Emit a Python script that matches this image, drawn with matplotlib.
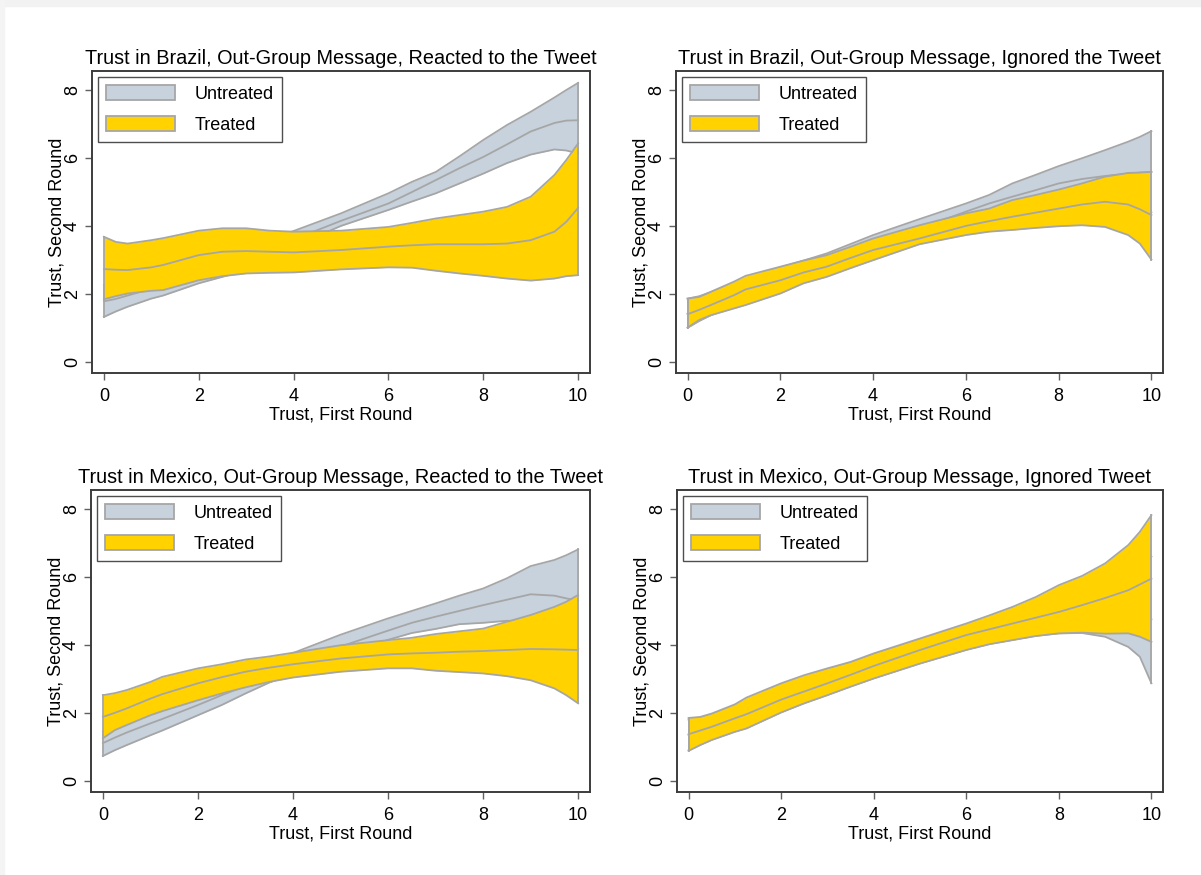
import numpy as np
import matplotlib.pyplot as plt
from matplotlib.patches import Patch, Rectangle

plt.rcParams['font.family'] = ['Liberation Sans', 'DejaVu Sans']

# first-round trust grid where the smoothed curves are read
trust_first = [0, 0.25, 0.5, 1, 1.25, 2, 2.5, 3, 3.5, 4, 5, 6, 6.5, 7, 7.5, 8, 8.5, 9, 9.5, 9.75, 10]

# Brazil, reacted to the tweet
br_re_unt_hi = [2.25, 2.3, 2.38, 2.55, 2.62, 2.95, 3.15, 3.35, 3.6, 3.85, 4.37, 4.96, 5.30, 5.59, 6.05, 6.53, 6.97, 7.36, 7.78, 8.0, 8.21]
br_re_unt_fit = [1.78, 1.85, 1.95, 2.15, 2.25, 2.6, 2.85, 3.1, 3.35, 3.6, 4.15, 4.66, 5.0, 5.35, 5.7, 6.03, 6.4, 6.78, 7.03, 7.1, 7.11]
br_re_unt_lo = [1.32, 1.48, 1.62, 1.86, 1.95, 2.31, 2.5, 2.7, 3.0, 3.4, 4.0, 4.47, 4.72, 4.96, 5.25, 5.54, 5.85, 6.1, 6.25, 6.22, 6.13]
br_re_trt_hi = [3.68, 3.53, 3.48, 3.58, 3.64, 3.86, 3.93, 3.93, 3.86, 3.83, 3.86, 3.97, 4.09, 4.22, 4.32, 4.42, 4.56, 4.86, 5.5, 5.94, 6.43]
br_re_trt_fit = [2.73, 2.71, 2.70, 2.78, 2.85, 3.14, 3.24, 3.26, 3.24, 3.22, 3.29, 3.39, 3.43, 3.46, 3.46, 3.46, 3.48, 3.58, 3.83, 4.12, 4.53]
br_re_trt_lo = [1.84, 1.93, 2.01, 2.09, 2.11, 2.40, 2.52, 2.60, 2.62, 2.63, 2.72, 2.78, 2.77, 2.68, 2.60, 2.53, 2.45, 2.39, 2.45, 2.52, 2.55]

# Brazil, ignored the tweet
br_ig_unt_hi = [1.86, 1.93, 2.05, 2.3, 2.45, 2.78, 2.98, 3.19, 3.46, 3.73, 4.20, 4.66, 4.91, 5.25, 5.5, 5.76, 5.99, 6.23, 6.48, 6.62, 6.79]
br_ig_unt_fit = [1.42, 1.55, 1.68, 1.9, 2.02, 2.35, 2.6, 2.85, 3.12, 3.42, 3.92, 4.42, 4.66, 4.86, 5.05, 5.25, 5.38, 5.47, 5.54, 5.57, 5.59]
br_ig_unt_lo = [1.0, 1.2, 1.37, 1.62, 1.72, 2.07, 2.34, 2.6, 2.85, 3.1, 3.6, 4.05, 4.25, 4.4, 4.55, 4.7, 4.8, 4.85, 4.75, 4.6, 4.4]
br_ig_trt_hi = [1.86, 1.91, 2.06, 2.36, 2.53, 2.80, 2.98, 3.14, 3.38, 3.63, 4.02, 4.37, 4.51, 4.76, 4.91, 5.07, 5.25, 5.45, 5.56, 5.57, 5.59]
br_ig_trt_fit = [1.40, 1.53, 1.67, 1.96, 2.13, 2.40, 2.63, 2.80, 3.05, 3.29, 3.63, 4.00, 4.14, 4.27, 4.39, 4.51, 4.63, 4.71, 4.63, 4.49, 4.32]
br_ig_trt_lo = [1.01, 1.23, 1.37, 1.57, 1.67, 2.01, 2.31, 2.50, 2.75, 2.99, 3.46, 3.73, 3.83, 3.88, 3.94, 3.99, 4.02, 3.97, 3.73, 3.48, 3.01]

# Mexico, reacted to the tweet
mx_re_unt_hi = [1.45, 1.6, 1.78, 2.1, 2.25, 2.62, 2.85, 3.1, 3.4, 3.76, 4.3, 4.78, 5.0, 5.22, 5.45, 5.66, 5.96, 6.32, 6.50, 6.64, 6.81]
mx_re_unt_fit = [1.11, 1.27, 1.42, 1.69, 1.82, 2.23, 2.52, 2.79, 3.06, 3.4, 3.95, 4.42, 4.65, 4.83, 5.0, 5.17, 5.33, 5.49, 5.45, 5.37, 5.3]
mx_re_unt_lo = [0.73, 0.9, 1.05, 1.34, 1.48, 1.93, 2.23, 2.57, 2.89, 3.15, 3.7, 4.15, 4.35, 4.47, 4.61, 4.65, 4.71, 4.7, 4.5, 4.2, 3.9]
mx_re_trt_hi = [2.52, 2.58, 2.67, 2.91, 3.06, 3.31, 3.43, 3.57, 3.66, 3.77, 3.99, 4.14, 4.21, 4.32, 4.40, 4.48, 4.68, 4.88, 5.12, 5.27, 5.47]
mx_re_trt_fit = [1.88, 2.0, 2.13, 2.42, 2.55, 2.87, 3.05, 3.21, 3.33, 3.43, 3.60, 3.72, 3.75, 3.77, 3.80, 3.82, 3.85, 3.88, 3.87, 3.86, 3.85]
mx_re_trt_lo = [1.25, 1.49, 1.64, 1.93, 2.05, 2.37, 2.57, 2.75, 2.91, 3.04, 3.21, 3.31, 3.31, 3.24, 3.20, 3.16, 3.08, 2.96, 2.72, 2.52, 2.28]

# Mexico, ignored the tweet
mx_ig_unt_hi = [1.8, 1.85, 1.95, 2.2, 2.38, 2.82, 3.05, 3.27, 3.47, 3.72, 4.15, 4.58, 4.8, 5.02, 5.25, 5.5, 5.7, 5.9, 6.2, 6.4, 6.6]
mx_ig_unt_fit = [1.35, 1.46, 1.57, 1.82, 1.94, 2.38, 2.62, 2.86, 3.1, 3.36, 3.82, 4.25, 4.42, 4.6, 4.75, 4.9, 4.98, 5.02, 4.95, 4.85, 4.75]
mx_ig_unt_lo = [0.9, 1.06, 1.21, 1.45, 1.55, 2.02, 2.29, 2.53, 2.78, 3.02, 3.46, 3.86, 4.03, 4.15, 4.27, 4.34, 4.35, 4.24, 3.94, 3.65, 2.87]
mx_ig_trt_hi = [1.85, 1.88, 1.98, 2.25, 2.45, 2.87, 3.11, 3.31, 3.50, 3.75, 4.19, 4.63, 4.87, 5.12, 5.41, 5.76, 6.03, 6.40, 6.94, 7.33, 7.82]
mx_ig_trt_fit = [1.37, 1.48, 1.59, 1.84, 1.96, 2.39, 2.63, 2.87, 3.12, 3.38, 3.85, 4.29, 4.46, 4.63, 4.80, 4.97, 5.17, 5.38, 5.61, 5.78, 5.95]
mx_ig_trt_lo = [0.88, 1.05, 1.20, 1.44, 1.54, 2.01, 2.28, 2.52, 2.77, 3.01, 3.45, 3.85, 4.02, 4.14, 4.26, 4.34, 4.36, 4.33, 4.34, 4.24, 4.09]

titles = ['Trust in Brazil, Out-Group Message, Reacted to the Tweet',
          'Trust in Brazil, Out-Group Message, Ignored the Tweet',
          'Trust in Mexico, Out-Group Message, Reacted to the Tweet',
          'Trust in Mexico, Out-Group Message, Ignored Tweet']

panels = [
    (br_re_unt_lo, br_re_unt_fit, br_re_unt_hi, br_re_trt_lo, br_re_trt_fit, br_re_trt_hi),
    (br_ig_unt_lo, br_ig_unt_fit, br_ig_unt_hi, br_ig_trt_lo, br_ig_trt_fit, br_ig_trt_hi),
    (mx_re_unt_lo, mx_re_unt_fit, mx_re_unt_hi, mx_re_trt_lo, mx_re_trt_fit, mx_re_trt_hi),
    (mx_ig_unt_lo, mx_ig_unt_fit, mx_ig_unt_hi, mx_ig_trt_lo, mx_ig_trt_fit, mx_ig_trt_hi),
]

unt_col = '#c7d2dd'
trt_col = '#ffd200'
edge_col = '#a6a6a6'
frame_col = '#3c3c3c'

W, H = 1201, 875
fig = plt.figure(figsize=(W / 100, H / 100), dpi=100)
fig.patch.set_facecolor('white')
# light grey strip along the top and left edge
fig.patches.append(Rectangle((0, 1 - 6 / H), 1, 6 / H, transform=fig.transFigure, color='#f2f2f2', zorder=-1))
fig.patches.append(Rectangle((0, 0), 4 / W, 1, transform=fig.transFigure, color='#f4f4f4', zorder=-1))

# axes boxes in pixels: left, top, right, bottom
boxes = [(92, 71, 590, 373), (676, 71, 1163, 373), (91, 490, 590, 792), (677, 490, 1163, 792)]


def band(ax, lo, fit, hi, fill, z):
    ax.fill_between(x, lo, hi, color=fill, lw=0, zorder=z)
    for ys in (lo, hi, fit):
        ax.plot(x, ys, color=edge_col, lw=1.3, zorder=z + 1)
    ax.plot([x[0], x[0]], [lo[0], hi[0]], color=edge_col, lw=1.3, zorder=z + 1)
    ax.plot([x[-1], x[-1]], [lo[-1], hi[-1]], color=edge_col, lw=1.3, zorder=z + 1)


x = np.array(trust_first)
for box, title, data in zip(boxes, titles, panels):
    l, t, r, b = box
    ax = fig.add_axes([l / W, 1 - b / H, (r - l) / W, (b - t) / H])
    ulo, ufit, uhi, tlo, tfit, thi = data

    band(ax, ulo, ufit, uhi, unt_col, 1)
    band(ax, tlo, tfit, thi, trt_col, 3)

    ax.set_xlim(-0.25, 10.25)
    ax.set_ylim(-0.33, 8.56)
    ax.set_xticks([0, 2, 4, 6, 8, 10])
    ax.set_yticks([0, 2, 4, 6, 8])
    ax.tick_params(axis='both', direction='out', length=5, width=1, color='#606060',
                   labelsize=13)
    ax.tick_params(axis='x', pad=6)
    ax.tick_params(axis='y', pad=3)
    for lab in ax.get_yticklabels():
        lab.set_rotation(90)
        lab.set_va('center')
    for s in ax.spines.values():
        s.set_color(frame_col)
        s.set_linewidth(1.4)

    ax.set_title(title, fontsize=14.3, pad=5)
    ax.set_xlabel('Trust, First Round', fontsize=13, labelpad=1)
    ax.set_ylabel('Trust, Second Round', fontsize=13, labelpad=-1)

    handles = [Patch(facecolor=unt_col, edgecolor=edge_col, lw=1.3, label='Untreated'),
               Patch(facecolor=trt_col, edgecolor=edge_col, lw=1.3, label='Treated')]
    leg = ax.legend(handles=handles, loc='upper left', fontsize=13, frameon=True, fancybox=False,
                    borderaxespad=0.35, handlelength=3.8, handleheight=0.9, handletextpad=1.1,
                    labelspacing=0.7, borderpad=0.45)
    leg.get_frame().set_edgecolor('#222222')
    leg.get_frame().set_linewidth(1.0)

fig.savefig('out.png', dpi=100)
